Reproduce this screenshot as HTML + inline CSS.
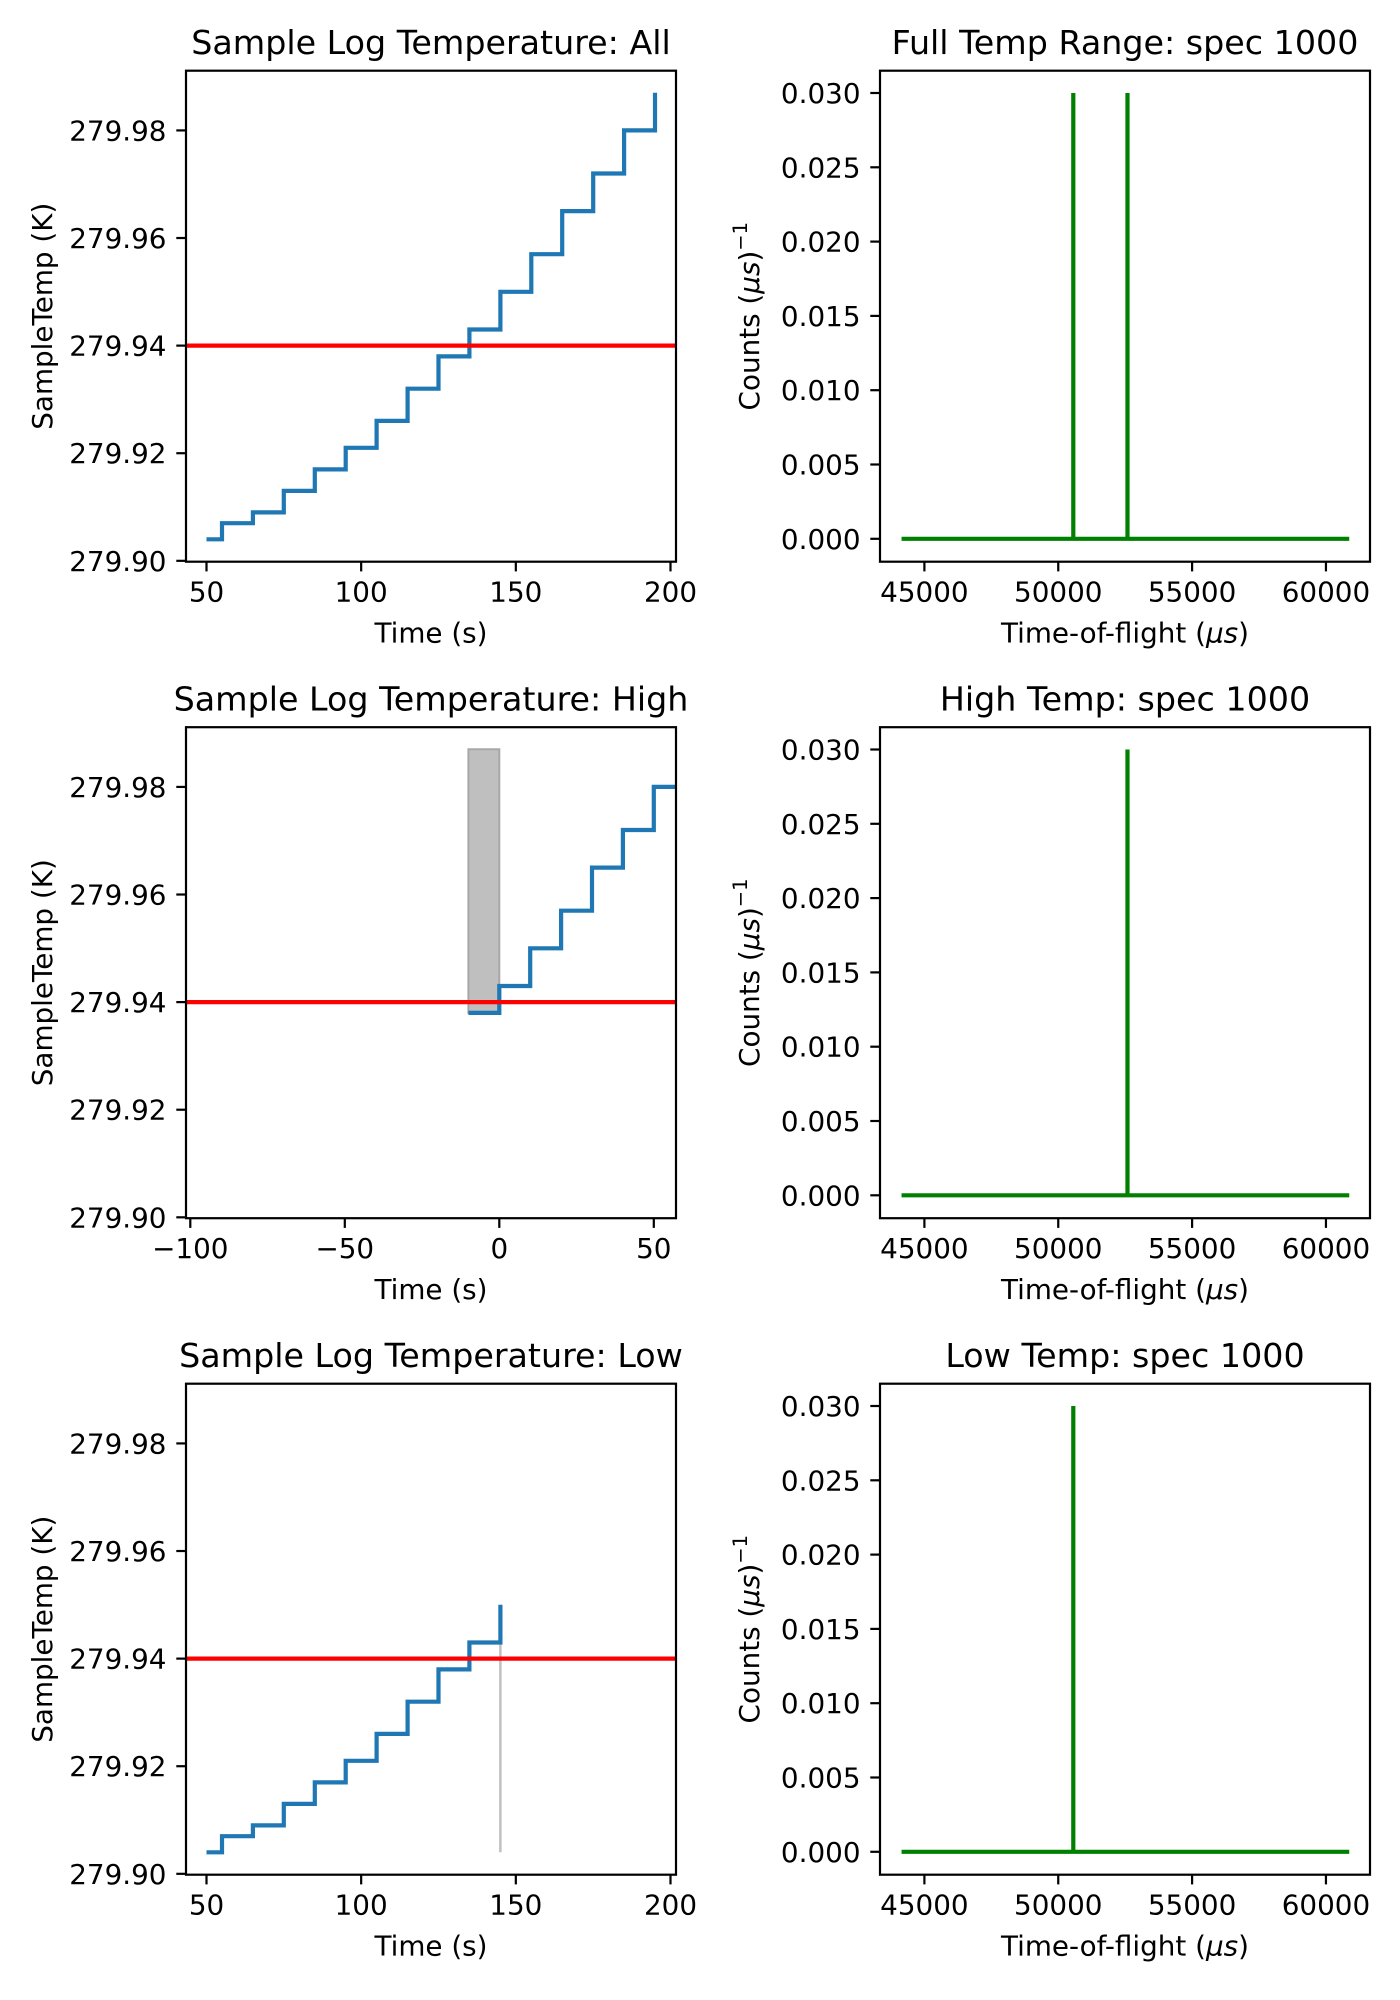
<!DOCTYPE html>
<html><head><meta charset="utf-8"><style>
html,body{margin:0;padding:0;background:#fff;}
svg{display:block;font-family:"DejaVu Sans","Liberation Sans",sans-serif;}
</style></head><body>
<svg id="s" width="1400" height="2000" viewBox="0 0 1400 2000" xmlns="http://www.w3.org/2000/svg"></svg>
<script>
const s=document.getElementById('s');let h='';
const tops=[70.7,727.2,1383.7],H=491;
const L0=186,L1=676,R0=880,R1=1370;
function yT(t,v){return t+(279.9911-v)/0.02*107.6;}
function yC(t,v){return t+22.3+(0.030-v)/0.005*74.3;}
function xA(v){return 206.5+(v-50)*3.0933;}
function xH(v){return 499.3+v*3.09;}
function xR(v){return 924.4+(v-45000)*0.02677;}
const titlesL=['Sample Log Temperature: All','Sample Log Temperature: High','Sample Log Temperature: Low'];
const titlesR=['Full Temp Range: spec 1000','High Temp: spec 1000','Low Temp: spec 1000'];
const steps=[[50,279.904],[55,279.907],[65,279.909],[75,279.913],[85,279.917],[95,279.921],[105,279.926],[115,279.932],[125,279.938],[135,279.943],[145,279.950],[155,279.957],[165,279.965],[175,279.972],[185,279.980],[195,279.987]];
function stepPath(pts,xf,t){let d='';for(let i=0;i<pts.length;i++){const x=xf(pts[i][0]),y=yT(t,pts[i][1]);d+=(i?'L':'M')+x.toFixed(1)+' '+y.toFixed(1);const nx=i+1<pts.length?xf(pts[i+1][0]):null;if(nx!==null)d+='L'+nx.toFixed(1)+' '+y.toFixed(1);}return d;}
for(let r=0;r<3;r++){
 const t=tops[r],b=t+H;
 h+=`<defs><clipPath id="cl${r}"><rect x="${L0}" y="${t}" width="${L1-L0}" height="${H}"/></clipPath></defs>`;
 h+=`<g clip-path="url(#cl${r})">`;
 if(r==0){h+=`<path d="${stepPath(steps,xA,t)}" fill="none" stroke="#1f77b4" stroke-width="4.2"/>`;}
 if(r==1){
  h+=`<rect x="${xH(-10)}" y="${yT(t,279.987)}" width="${xH(0)-xH(-10)}" height="${yT(t,279.938)-yT(t,279.987)}" fill="#bfbfbf" stroke="#a8a8a8" stroke-width="2"/>`;
  const p=[[-10,279.938],[0,279.943],[10,279.950],[20,279.957],[30,279.965],[40,279.972],[50,279.980],[70,279.980]];
  h+=`<path d="${stepPath(p,xH,t)}" fill="none" stroke="#1f77b4" stroke-width="4.2"/>`;}
 if(r==2){
  h+=`<line x1="${xA(145)}" x2="${xA(145)}" y1="${yT(t,279.904)}" y2="${yT(t,279.943)}" stroke="#c0c0c0" stroke-width="2.5"/>`;
  const p=steps.slice(0,11);
  h+=`<path d="${stepPath(p,xA,t)}" fill="none" stroke="#1f77b4" stroke-width="4.2"/>`;}
 h+=`<line x1="${L0}" x2="${L1}" y1="${yT(t,279.94)}" y2="${yT(t,279.94)}" stroke="#ff0000" stroke-width="4.2"/>`;
 h+='</g>';
 h+=`<rect x="${L0}" y="${t}" width="${L1-L0}" height="${H}" fill="none" stroke="#000" stroke-width="2.2"/>`;
 ['279.90','279.92','279.94','279.96','279.98'].forEach(v=>{const y=yT(t,+v);h+=`<line x1="${L0-9.7}" x2="${L0}" y1="${y}" y2="${y}" stroke="#000" stroke-width="2.2"/><text x="${L0-19.5}" y="${y+10}" font-size="27.8" text-anchor="end">${v}</text>`;});
 const xt=r==1?[[-100,'\u2212100'],[-50,'\u221250'],[0,'0'],[50,'50']]:[[50,'50'],[100,'100'],[150,'150'],[200,'200']];
 const xf=r==1?xH:xA;
 xt.forEach(([v,l])=>{const x=xf(v);h+=`<line x1="${x}" x2="${x}" y1="${b}" y2="${b+9.7}" stroke="#000" stroke-width="2.2"/><text x="${x}" y="${b+40}" font-size="27.8" text-anchor="middle">${l}</text>`;});
 h+=`<text x="${(L0+L1)/2}" y="${b+81}" font-size="27.8" text-anchor="middle">Time (s)</text>`;
 h+=`<text transform="translate(52,${t+H/2}) rotate(-90)" font-size="27.8" text-anchor="middle">SampleTemp (K)</text>`;
 h+=`<text x="${(L0+L1)/2}" y="${t-16.7}" font-size="33.3" text-anchor="middle">${titlesL[r]}</text>`;
 const z=yC(t,0),pk=yC(t,0.030);
 h+=`<path d="M${xR(44146)} ${z}H${xR(60870)}" stroke="#008000" stroke-width="4.2" fill="none"/>`;
 const peaks=r==0?[50562,52586]:(r==1?[52586]:[50562]);
 peaks.forEach(p=>{h+=`<line x1="${xR(p)}" x2="${xR(p)}" y1="${z}" y2="${pk}" stroke="#008000" stroke-width="4.2"/>`;});
 h+=`<rect x="${R0}" y="${t}" width="${R1-R0}" height="${H}" fill="none" stroke="#000" stroke-width="2.2"/>`;
 ['0.000','0.005','0.010','0.015','0.020','0.025','0.030'].forEach(v=>{const y=yC(t,+v);h+=`<line x1="${R0-9.7}" x2="${R0}" y1="${y}" y2="${y}" stroke="#000" stroke-width="2.2"/><text x="${R0-19.5}" y="${y+10}" font-size="27.8" text-anchor="end">${v}</text>`;});
 [45000,50000,55000,60000].forEach(v=>{const x=xR(v);h+=`<line x1="${x}" x2="${x}" y1="${b}" y2="${b+9.7}" stroke="#000" stroke-width="2.2"/><text x="${x}" y="${b+40}" font-size="27.8" text-anchor="middle">${v}</text>`;});
 h+=`<text x="${(R0+R1)/2}" y="${b+81}" font-size="27.8" text-anchor="middle">Time-of-flight (<tspan font-style="italic">μs</tspan>)</text>`;
 h+=`<text transform="translate(759,${t+H/2}) rotate(-90)" font-size="27.8" text-anchor="middle">Counts (<tspan font-style="italic">μs</tspan>)<tspan dy="-12" font-size="19.5">−1</tspan></text>`;
 h+=`<text x="${(R0+R1)/2}" y="${t-16.7}" font-size="33.3" text-anchor="middle">${titlesR[r]}</text>`;
}
s.innerHTML=h;
</script>
</body></html>
